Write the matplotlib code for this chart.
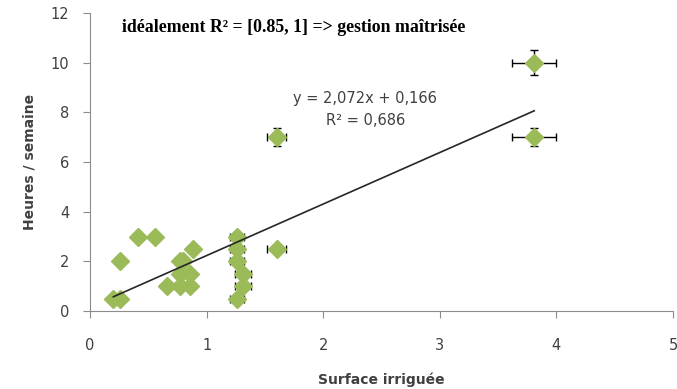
import matplotlib.pyplot as plt

# surface irriguée / heures par semaine
surface = [0.20, 0.26, 0.26, 0.41, 0.56, 0.66, 0.77, 0.77, 0.77, 0.80,
           0.86, 0.86, 0.88, 1.26, 1.26, 1.26, 1.26, 1.31, 1.31, 1.60,
           1.60, 3.81, 3.81]
heures = [0.5, 0.5, 2, 3, 3, 1, 1, 1.5, 2, 2,
          1, 1.5, 2.5, 0.5, 2, 2.5, 3, 1, 1.5, 2.5,
          7, 7, 10]
err_surface = [0.01, 0.01, 0.01, 0.02, 0.03, 0.03, 0.04, 0.04, 0.04, 0.04,
               0.04, 0.04, 0.04, 0.06, 0.06, 0.06, 0.06, 0.07, 0.07, 0.08,
               0.08, 0.19, 0.19]
err_heures = [0.02, 0.02, 0.1, 0.15, 0.15, 0.05, 0.05, 0.08, 0.1, 0.1,
              0.05, 0.08, 0.12, 0.02, 0.1, 0.12, 0.15, 0.05, 0.08, 0.12,
              0.35, 0.35, 0.5]

# courbe de tendance (Excel)
pente = 2.072
origine = 0.166
r2 = 0.686

fig = plt.figure(figsize=(6.77, 3.89), dpi=100)
ax = fig.add_axes([0.133, 0.2, 0.861, 0.767])

ax.errorbar(surface, heures, xerr=err_surface, yerr=err_heures, fmt='none',
            ecolor='black', elinewidth=1, capsize=3, capthick=1, zorder=2)
ax.plot(surface, heures, 'D', color='#9BBB59', markersize=9.5, zorder=3)

x_fit = [min(surface), max(surface)]
y_fit = [pente * v + origine for v in x_fit]
ax.plot(x_fit, y_fit, color='#262626', lw=1.2, zorder=4)

ax.set_xlim(0, 5)
ax.set_ylim(0, 12)
ax.set_xticks(range(0, 6))
ax.set_yticks(range(0, 13, 2))
for s in ['top', 'right']:
    ax.spines[s].set_visible(False)
for s in ['left', 'bottom']:
    ax.spines[s].set_color('#8c8c8c')
ax.tick_params(colors='#8c8c8c', labelcolor='#404040', labelsize=10.5,
               direction='out', length=5)
ax.tick_params(axis='x', pad=14)
ax.tick_params(axis='y', pad=10)

ax.set_xlabel('Surface irriguée', fontsize=10, fontweight='bold',
              color='#404040', labelpad=14)
ax.set_ylabel('Heures / semaine', fontsize=10, fontweight='bold',
              color='#404040', labelpad=10)

ax.text(2.36, 8.55, f'y = {pente:.3f}x + {origine:.3f}'.replace('.', ','),
        ha='center', va='center', fontsize=10.5, color='#404040')
ax.text(2.36, 7.66, f'R² = {r2:.3f}'.replace('.', ','),
        ha='center', va='center', fontsize=10.5, color='#404040')

fig.text(0.18, 0.93, 'idéalement R² = [0.85, 1] => gestion maîtrisée',
         family='Liberation Serif', fontweight='bold', fontsize=12.8,
         ha='left', va='center')

fig.savefig('out.png', dpi=100)
